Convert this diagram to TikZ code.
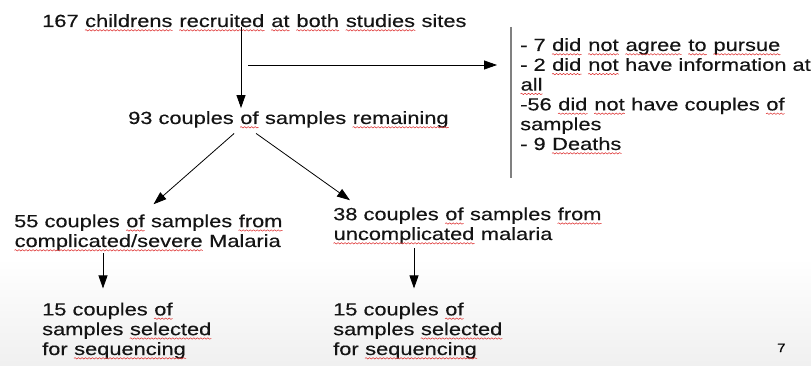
\documentclass[tikz,border=0pt]{standalone}
\usepackage{fontspec}
\setmainfont{Liberation Sans}[FakeStretch=1.24,FakeBold=0.3]
\usetikzlibrary{arrows.meta,decorations.pathmorphing}
\definecolor{sqred}{RGB}{220,40,40}
\newcommand\sq[1]{\tikz[baseline=(sqw.base)]{\node[inner sep=0pt,anchor=base,align=left] (sqw) {#1};
  \draw[sqred,line width=0.5pt,decorate,decoration={snake,amplitude=0.7pt,segment length=3.5pt}]
  ([yshift=-3.3pt]sqw.base west) -- ([yshift=-3.3pt]sqw.base east);}}

\begin{document}
\begin{tikzpicture}[x=1pt,y=-1pt,
  txt/.style={inner sep=0pt,anchor=base west,align=left,font=\fontsize{17.6}{19.8}\selectfont,text=black!92},
  arr/.style={line width=0.8pt,-{Triangle[length=13pt,width=9pt]}}]
\useasboundingbox (0,0) rectangle (811,366);
\shade[top color=white,bottom color=black!6] (0,258) rectangle (811,366);
% base of a multi-line node = baseline of its last line
\node[txt] (recruit) at (42,27) {167 \sq{childrens} \sq{recruited} \sq{at} \sq{both} \sq{studies} sites};
\node[txt] (remain) at (128,124) {93 couples \sq{of} samples \sq{remaining}};
\node[txt] (excl) at (520,150) {- 7 \sq{did} \sq{not} \sq{agree} \sq{to} \sq{pursue}\\
 - 2 \sq{did} \sq{not} have information at\\
 \sq{all}\\
 -56 \sq{did} \sq{not} have couples \sq{of}\\
 samples\\
 - 9 \sq{Deaths}};
\node[txt] (severe) at (14,247) {55 couples \sq{of} samples \sq{from}\\
 \sq{complicated/severe} Malaria};
\node[txt] (uncompl) at (333,240) {38 couples \sq{of} samples \sq{from}\\
 \sq{uncomplicated} malaria};
\node[txt] (seqA) at (42,355) {15 couples \sq{of}\\ samples \sq{selected}\\ for \sq{sequencing}};
\node[txt] (seqB) at (333,355) {15 couples \sq{of}\\ samples \sq{selected}\\ for \sq{sequencing}};
\node[inner sep=0pt,anchor=base west,font=\fontsize{12}{14}\selectfont] (pagenum) at (777,352) {7};
\coordinate (split) at (241,65);
\coordinate (bar) at (511,27);
\coordinate (barend) at (511,178);
% arrows
\draw[arr] (recruit.base -| split) -- ([yshift=3pt]remain.north -| split);
\draw[arr] ([xshift=7pt]split) -- ([xshift=-14pt]split -| bar);
\draw[gray,line width=1.2pt] (bar) -- (barend);
\draw[arr] ([xshift=-54.5pt,yshift=-5pt]remain.south) -- ([xshift=5pt,yshift=10pt]severe.north);
\draw[arr] ([xshift=-32.5pt,yshift=-5pt]remain.south) -- ([xshift=17pt,yshift=7pt]uncompl.north west);
\draw[arr] ([xshift=89pt,yshift=-2pt]severe.south west) -- ([xshift=61pt,yshift=14pt]seqA.north west);
\draw[arr] ([xshift=81pt,yshift=-4pt]uncompl.south west) -- ([xshift=81pt,yshift=14pt]seqB.north west);
\end{tikzpicture}
\end{document}
